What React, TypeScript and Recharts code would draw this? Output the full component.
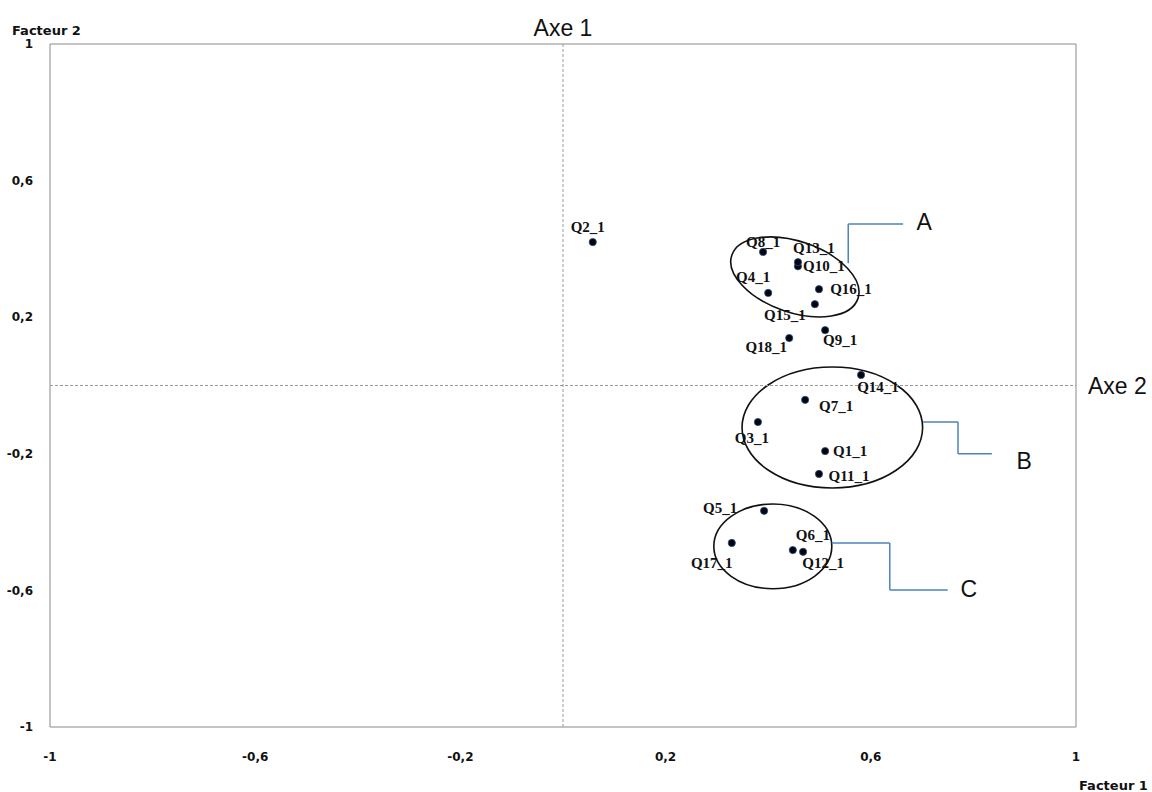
import React from 'react';
import {
  ScatterChart,
  Scatter,
  XAxis,
  YAxis,
  ReferenceLine,
  ReferenceArea,
  ReferenceDot,
} from 'recharts';

// --- data ---
const questions = [
  'Q1_1', 'Q2_1', 'Q3_1', 'Q4_1', 'Q5_1', 'Q6_1', 'Q7_1', 'Q8_1', 'Q9_1',
  'Q10_1', 'Q11_1', 'Q12_1', 'Q13_1', 'Q14_1', 'Q15_1', 'Q16_1', 'Q17_1', 'Q18_1',
];
const facteur1 = [
  0.511, 0.058, 0.38, 0.4, 0.392, 0.448, 0.472, 0.39, 0.511,
  0.458, 0.499, 0.468, 0.458, 0.581, 0.491, 0.499, 0.329, 0.441,
];
const facteur2 = [
  -0.192, 0.42, -0.107, 0.271, -0.367, -0.482, -0.042, 0.391, 0.162,
  0.349, -0.259, -0.487, 0.361, 0.031, 0.238, 0.282, -0.461, 0.139,
];
const axisTicks = [-1, -0.6, -0.2, 0.2, 0.6, 1];

// groups circled on the map (centre, half-extent in data units)
const groups = [
  { name: 'A', cx: 0.452, cy: 0.318, rx: 0.13, ry: 0.104, tilt: 19 },
  { name: 'B', cx: 0.525, cy: -0.123, rx: 0.176, ry: 0.177, tilt: 0 },
  { name: 'C', cx: 0.409, cy: -0.471, rx: 0.115, ry: 0.124, tilt: 0 },
];
// elbow connectors from each group to its letter
const connectors = [
  { name: 'A', path: [[0.556, 0.358], [0.556, 0.473], [0.663, 0.473]], letter: [0.704, 0.479] },
  { name: 'B', path: [[0.702, -0.107], [0.77, -0.107], [0.77, -0.2], [0.836, -0.2]], letter: [0.899, -0.221] },
  { name: 'C', path: [[0.524, -0.461], [0.637, -0.461], [0.637, -0.599], [0.75, -0.599]], letter: [0.791, -0.596] },
];

// where each point's name sits relative to its dot (px)
const labelOffset: Record<string, [number, number]> = {
  Q1_1: [25, 0], Q2_1: [-5, -15], Q3_1: [-6, 16], Q4_1: [-15, -16],
  Q5_1: [-44, -3], Q6_1: [20, -15], Q7_1: [31, 6], Q8_1: [0, -10],
  Q9_1: [15, 10], Q10_1: [26, 0], Q11_1: [30, 2], Q12_1: [20, 11],
  Q13_1: [16, -14], Q14_1: [17, 12], Q15_1: [-30, 11], Q16_1: [32, 0],
  Q17_1: [-20, 20], Q18_1: [-23, 9],
};

const points = questions.map((name, i) => ({ name, x: facteur1[i], y: facteur2[i] }));

const fmt = (v: number) => String(v).replace('.', ',');

const tickStyle = { fontSize: 12, fontWeight: 700, fill: '#111', fontFamily: 'DejaVu Sans' };
const bigText = { fontSize: 23, fill: '#111', fontFamily: 'Liberation Sans' };

const PointShape = (props: any) => {
  const { cx, cy, payload } = props;
  const off = labelOffset[payload.name] || [0, -12];
  return (
    <g>
      <circle cx={cx} cy={cy} r={3.6} fill="#02040f" stroke="#2a4a7a" strokeWidth={0.8} />
      <text
        x={cx + off[0]}
        y={cy + off[1]}
        textAnchor="middle"
        dominantBaseline="central"
        fontFamily="Liberation Serif"
        fontWeight={700}
        fontSize={15}
        fill="#111"
      >
        {payload.name}
      </text>
    </g>
  );
};

const App = () => {
  return (
    <div style={{ position: 'absolute', left: 0, top: 0, width: 1152, height: 792, background: '#fff' }}>
      <ScatterChart width={1152} height={792} margin={{ top: 44, right: 76, bottom: 25, left: 10 }}>
        <XAxis
          type="number"
          dataKey="x"
          domain={[-1, 1]}
          ticks={axisTicks}
          allowDataOverflow
          tickFormatter={fmt}
          axisLine={false}
          tickLine={false}
          tickSize={0}
          tickMargin={25}
          height={40}
          tick={tickStyle}
          label={{
            content: ({ viewBox }: any) => (
              <text x={viewBox.x + viewBox.width + 3} y={viewBox.y + 63} fontSize={13} fontWeight={700} fontFamily="DejaVu Sans" fill="#111">
                Facteur 1
              </text>
            ),
          }}
        />
        <YAxis
          type="number"
          dataKey="y"
          domain={[-1, 1]}
          ticks={axisTicks}
          allowDataOverflow
          tickFormatter={fmt}
          axisLine={false}
          tickLine={false}
          tickSize={0}
          tickMargin={17}
          width={40}
          tick={tickStyle}
          label={{
            content: ({ viewBox }: any) => (
              <text x={viewBox.x + 2} y={viewBox.y - 9} fontSize={13} fontWeight={700} fontFamily="DejaVu Sans" fill="#111">
                Facteur 2
              </text>
            ),
          }}
        />

        {/* plot frame */}
        <ReferenceArea x1={-1} x2={1} y1={-1} y2={1} fill="none" stroke="#8a8a8a" strokeWidth={1} fillOpacity={0} />

        <ReferenceLine
          x={0}
          stroke="#9a9a9a"
          strokeDasharray="3 2"
          label={{ value: 'Axe 1', position: 'top', offset: 8, ...bigText }}
        />
        <ReferenceLine
          y={0}
          stroke="#9a9a9a"
          strokeDasharray="3 2"
          label={{ value: 'Axe 2', position: 'right', offset: 12, ...bigText }}
        />

        {groups.map((g) => (
          <ReferenceArea
            key={g.name}
            x1={g.cx - g.rx}
            x2={g.cx + g.rx}
            y1={g.cy - g.ry}
            y2={g.cy + g.ry}
            shape={(p: any) => {
              const ex = p.x + p.width / 2;
              const ey = p.y + p.height / 2;
              return (
                <ellipse
                  cx={ex}
                  cy={ey}
                  rx={Math.abs(p.width) / 2}
                  ry={Math.abs(p.height) / 2}
                  transform={`rotate(${g.tilt} ${ex} ${ey})`}
                  fill="none"
                  stroke="#111"
                  strokeWidth={1.6}
                />
              );
            }}
          />
        ))}

        {connectors.map((c) =>
          c.path.slice(1).map((pt, i) => (
            <ReferenceLine
              key={`${c.name}-${i}`}
              segment={[
                { x: c.path[i][0], y: c.path[i][1] },
                { x: pt[0], y: pt[1] },
              ]}
              stroke="#4f81bd"
              strokeWidth={1.5}
            />
          ))
        )}
        {connectors.map((c) => (
          <ReferenceDot
            key={`letter-${c.name}`}
            x={c.letter[0]}
            y={c.letter[1]}
            r={0}
            shape={(p: any) => (
              <text x={p.cx} y={p.cy} textAnchor="middle" dominantBaseline="central" {...bigText}>
                {c.name}
              </text>
            )}
          />
        ))}

        <Scatter data={points} shape={<PointShape />} isAnimationActive={false} />
      </ScatterChart>
    </div>
  );
};

export default App;
